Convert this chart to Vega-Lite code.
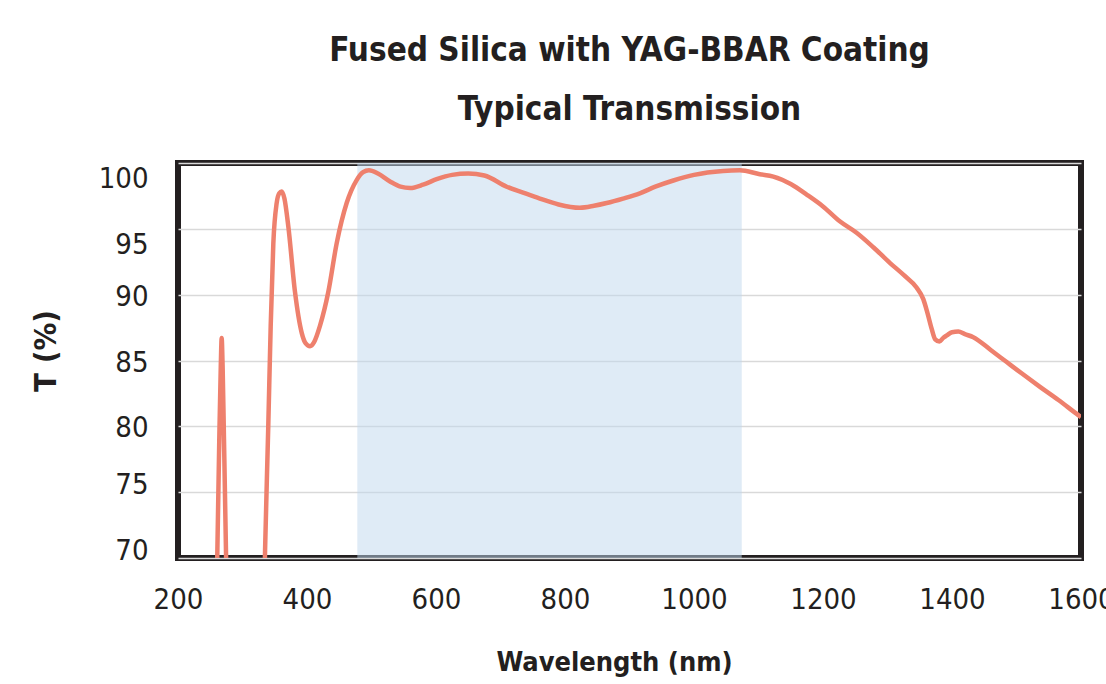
{
  "$schema": "https://vega.github.io/schema/vega-lite/v6.json",
  "width": 903,
  "height": 395,
  "autosize": {"type": "none"},
  "padding": {"left": 178, "top": 163, "right": 25, "bottom": 126},
  "background": "white",
  "title": {
    "text": ["Fused Silica with YAG-BBAR Coating", "Typical Transmission"],
    "font": "DejaVu Sans Condensed, Roboto, sans-serif",
    "fontSize": 33,
    "fontWeight": "bold",
    "color": "#231F20",
    "lineHeight": 59,
    "anchor": "middle",
    "offset": 36
  },
  "config": {
    "view": {"stroke": "#231F20", "strokeWidth": 6},
    "axisX": {
      "grid": false,
      "ticks": false,
      "tickSize": 0,
      "domain": false,
      "format": "d",
      "labelFont": "DejaVu Sans Condensed, Roboto, sans-serif",
      "labelFontSize": 29,
      "labelColor": "#231F20",
      "labelPadding": 27,
      "labelFlush": false,
      "labelOverlap": false,
      "labelBound": false,
      "titleFont": "DejaVu Sans Condensed, Roboto, sans-serif",
      "titleFontSize": 27,
      "titleFontWeight": "bold",
      "titleColor": "#231F20",
      "titleX": 436,
      "titleY": 91,
      "titleBaseline": "top"
    },
    "axisY": {
      "grid": true,
      "gridColor": "#D9D9D9",
      "gridWidth": 1.5,
      "ticks": false,
      "tickSize": 0,
      "domain": false,
      "format": "d",
      "labelFont": "DejaVu Sans Condensed, Roboto, sans-serif",
      "labelFontSize": 29,
      "labelColor": "#231F20",
      "labelPadding": 30,
      "labelOffset": 1.5,
      "labelOverlap": false,
      "labelBound": false,
      "labelFlush": false,
      "titleFont": "DejaVu Sans Condensed, Roboto, sans-serif",
      "titleFontSize": 31,
      "titleFontWeight": "bold",
      "titleColor": "#231F20",
      "titleX": -132,
      "titleY": 187.5,
      "titleBaseline": "middle",
      "titleAngle": -90
    }
  },
  "layer": [
    {
      "data": {"values": [{"start": 478, "end": 1074}]},
      "mark": {"type": "rect", "color": "#BFD7ED", "opacity": 0.5},
      "encoding": {
        "x": {"field": "start", "type": "quantitative", "scale": {"domain": [200, 1600], "nice": false, "zero": false},
              "axis": {"title": "Wavelength (nm)", "values": [200, 400, 600, 800, 1000, 1200, 1400, 1600]}},
        "x2": {"field": "end"}
      }
    },
    {
      "data": {"values": [
        {"wavelength": 250, "T": 30},
        {"wavelength": 261, "T": 70.5},
        {"wavelength": 264, "T": 79},
        {"wavelength": 266.3, "T": 84.5},
        {"wavelength": 267.7, "T": 86.7},
        {"wavelength": 269.2, "T": 84.5},
        {"wavelength": 271.3, "T": 79},
        {"wavelength": 274.4, "T": 70.5},
        {"wavelength": 285, "T": 30},
        {"wavelength": 320, "T": 30},
        {"wavelength": 330, "T": 58},
        {"wavelength": 335, "T": 70.6},
        {"wavelength": 340, "T": 80.1},
        {"wavelength": 343.7, "T": 87.6},
        {"wavelength": 347.8, "T": 93.9},
        {"wavelength": 353, "T": 96.96},
        {"wavelength": 357, "T": 97.7},
        {"wavelength": 360.7, "T": 97.83},
        {"wavelength": 365, "T": 97.3},
        {"wavelength": 371, "T": 95.2},
        {"wavelength": 381.4, "T": 90.2},
        {"wavelength": 391.8, "T": 87.1},
        {"wavelength": 398, "T": 86.3},
        {"wavelength": 404.7, "T": 86.09},
        {"wavelength": 411, "T": 86.4},
        {"wavelength": 420.2, "T": 87.65},
        {"wavelength": 433, "T": 90.2},
        {"wavelength": 446, "T": 93.9},
        {"wavelength": 461.5, "T": 96.96},
        {"wavelength": 477, "T": 98.7},
        {"wavelength": 487, "T": 99.3},
        {"wavelength": 496, "T": 99.45},
        {"wavelength": 510, "T": 99.2},
        {"wavelength": 528.7, "T": 98.6},
        {"wavelength": 545, "T": 98.2},
        {"wavelength": 560, "T": 98.1},
        {"wavelength": 580, "T": 98.35},
        {"wavelength": 601, "T": 98.77},
        {"wavelength": 625, "T": 99.1},
        {"wavelength": 650, "T": 99.2},
        {"wavelength": 675, "T": 99.05},
        {"wavelength": 709.6, "T": 98.2},
        {"wavelength": 735, "T": 97.75},
        {"wavelength": 761, "T": 97.3},
        {"wavelength": 790, "T": 96.85},
        {"wavelength": 823, "T": 96.6},
        {"wavelength": 845, "T": 96.75},
        {"wavelength": 864.6, "T": 96.96},
        {"wavelength": 890, "T": 97.3},
        {"wavelength": 916, "T": 97.7},
        {"wavelength": 940, "T": 98.2},
        {"wavelength": 968, "T": 98.67},
        {"wavelength": 1000, "T": 99.1},
        {"wavelength": 1045, "T": 99.4},
        {"wavelength": 1071, "T": 99.45},
        {"wavelength": 1102, "T": 99.15},
        {"wavelength": 1123, "T": 98.97},
        {"wavelength": 1150, "T": 98.4},
        {"wavelength": 1174.7, "T": 97.6},
        {"wavelength": 1200, "T": 96.7},
        {"wavelength": 1226, "T": 95.57},
        {"wavelength": 1252, "T": 94.7},
        {"wavelength": 1278, "T": 93.6},
        {"wavelength": 1304, "T": 92.4},
        {"wavelength": 1325, "T": 91.5},
        {"wavelength": 1345, "T": 90.54},
        {"wavelength": 1355.5, "T": 89.66},
        {"wavelength": 1362, "T": 88.6},
        {"wavelength": 1368.5, "T": 87.4},
        {"wavelength": 1374, "T": 86.6},
        {"wavelength": 1380.4, "T": 86.44},
        {"wavelength": 1386, "T": 86.7},
        {"wavelength": 1391.8, "T": 86.9},
        {"wavelength": 1400, "T": 87.15},
        {"wavelength": 1409.8, "T": 87.2},
        {"wavelength": 1420, "T": 87.0},
        {"wavelength": 1433, "T": 86.77},
        {"wavelength": 1460, "T": 85.8},
        {"wavelength": 1484.8, "T": 84.88},
        {"wavelength": 1510, "T": 83.95},
        {"wavelength": 1536.4, "T": 83.0},
        {"wavelength": 1565, "T": 82.0},
        {"wavelength": 1595.8, "T": 80.85},
        {"wavelength": 1600, "T": 80.7}
      ]},
      "mark": {"type": "line", "clip": true, "interpolate": "monotone", "color": "#EE806D", "strokeWidth": 4.5},
      "encoding": {
        "x": {
          "field": "wavelength",
          "type": "quantitative",
          "scale": {"domain": [200, 1600], "nice": false, "zero": false},
          "axis": {"title": "Wavelength (nm)", "values": [200, 400, 600, 800, 1000, 1200, 1400, 1600]}
        },
        "y": {
          "field": "T",
          "type": "quantitative",
          "scale": {"domain": [70, 100], "nice": false, "zero": false},
          "axis": {
            "title": "T (%)",
            "values": [70, 75, 80, 85, 90, 95, 100],
            "labelBaseline": {
              "condition": [
                {"test": "datum.value >= 95", "value": "top"},
                {"test": "datum.value <= 75", "value": "alphabetic"}
              ],
              "value": "middle"
            }
          }
        }
      }
    }
  ]
}
